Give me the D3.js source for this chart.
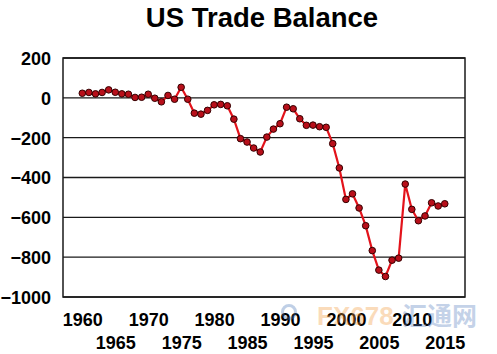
<!DOCTYPE html>
<html><head><meta charset="utf-8">
<script src="https://cdn.jsdelivr.net/npm/d3@7"></script>
<style>html,body{margin:0;padding:0;background:#fff;}svg{display:block;}</style>
</head><body>
<svg id="chart" width="497" height="354"></svg>
<script>
const title = "US Trade Balance";
const years = d3.range(1960, 2016);
const balance = [23, 27, 20, 27, 40, 28, 20, 18, 2, 3,
  18, -2, -20, 12, -7, 53, -7, -77, -82, -63,
  -35, -33, -40, -107, -205, -222, -252, -272, -197, -157,
  -130, -47, -55, -105, -138, -137, -145, -148, -230, -352,
  -510, -482, -553, -642, -767, -865, -897, -815, -805, -433,
  -560, -617, -593, -527, -543, -532];
const yTicks = [200, 0, -200, -400, -600, -800, -1000];
const xTicksTop = [1960, 1970, 1980, 1990, 2000, 2010];
const xTicksBottom = [1965, 1975, 1985, 1995, 2005, 2015];

const svg = d3.select("#chart");
const L = 63, R = 465, T = 58, B = 297;
const x = d3.scaleLinear().domain([1957.07, 2018.07]).range([L, R]);
const y = d3.scaleLinear().domain([-1000, 200]).range([B, T]);
const font = "'Liberation Sans', Arial, sans-serif";

svg.append("text").attr("x", 262).attr("y", 27).attr("text-anchor", "middle")
  .attr("font-family", font).attr("font-weight", "bold").attr("font-size", 27.5)
  .attr("fill", "#000").text(title);

// gridlines
svg.append("g").selectAll("line").data(yTicks).join("line")
  .attr("x1", L).attr("x2", R).attr("y1", d => y(d)).attr("y2", d => y(d))
  .attr("stroke", "#1a1a1a").attr("stroke-width", 1.4);
svg.append("rect").attr("x", L).attr("y", T).attr("width", R - L).attr("height", B - T)
  .attr("fill", "none").attr("stroke", "#1a1a1a").attr("stroke-width", 1.5);

// y labels
const yAxis = d3.axisLeft(y).tickValues(yTicks).tickSize(0).tickPadding(12).tickFormat(d3.format("d"));
const gy = svg.append("g").attr("transform", `translate(${L},0)`).call(yAxis);
gy.select(".domain").remove();
gy.selectAll("text").attr("font-family", font).attr("font-weight", "bold")
  .attr("font-size", 18).attr("fill", "#000").attr("dy", "0.36em");

// x labels
const gx1 = svg.append("g").attr("transform", `translate(0,${B})`)
  .call(d3.axisBottom(x).tickValues(xTicksTop).tickSize(0).tickPadding(16).tickFormat(d3.format("d")));
const gx2 = svg.append("g").attr("transform", `translate(0,${B})`)
  .call(d3.axisBottom(x).tickValues(xTicksBottom).tickSize(0).tickPadding(39).tickFormat(d3.format("d")));
[gx1, gx2].forEach(g => {
  g.select(".domain").remove();
  g.selectAll("text").attr("font-family", font).attr("font-weight", "bold")
    .attr("font-size", 18).attr("fill", "#000");
});

// watermark
const wm = svg.append("g").attr("opacity", 0.35);
wm.append("circle").attr("cx", 289).attr("cy", 312).attr("r", 6.5).attr("fill", "none")
  .attr("stroke", "#4a78b8").attr("stroke-width", 3);
wm.append("text").attr("x", 317).attr("y", 325).attr("font-family", font)
  .attr("font-weight", "bold").attr("font-size", 26).attr("fill", "#f39a3c").text("FX678");
wm.append("text").attr("x", 402).attr("y", 325).attr("font-family", "'Noto Sans CJK SC', sans-serif")
  .attr("font-weight", "bold").attr("font-size", 25).attr("fill", "#5a7fc0").text("汇通网");

const data = years.map((yr, i) => ({ yr, v: balance[i] }));
svg.append("path").datum(data)
  .attr("d", d3.line().x(d => x(d.yr)).y(d => y(d.v)))
  .attr("fill", "none").attr("stroke", "#e3131b").attr("stroke-width", 2.2);
svg.append("g").selectAll("circle").data(data).join("circle")
  .attr("cx", d => x(d.yr)).attr("cy", d => y(d.v)).attr("r", 3.3)
  .attr("fill", "#b80f1a").attr("stroke", "#300").attr("stroke-width", 1);
</script>
</body></html>
